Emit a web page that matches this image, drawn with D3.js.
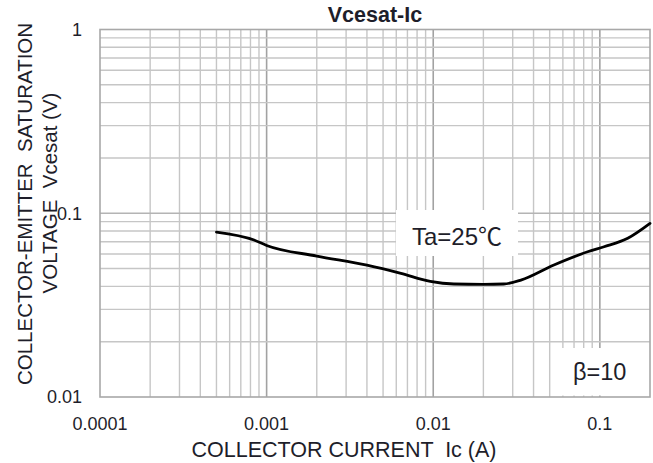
<!DOCTYPE html>
<html>
<head>
<meta charset="utf-8">
<script src="https://cdn.jsdelivr.net/npm/d3@7"></script>
<style>
  html, body { margin: 0; padding: 0; background: #fff; }
  svg { display: block; }
  text { font-family: "Liberation Sans", Arial, "Noto Sans CJK SC", sans-serif; fill: #1e1e2a; white-space: pre; }
</style>
</head>
<body>
<svg id="chart" width="653" height="463"></svg>
<script>
// ---- data ----
const icValues  = [0.0005, 0.00084, 0.001, 0.002, 0.004, 0.0064, 0.0096, 0.0133, 0.02, 0.0265, 0.0336, 0.053, 0.0845, 0.106, 0.147, 0.2];
const vceValues = [0.079, 0.0715, 0.0668, 0.0585, 0.0522, 0.0471, 0.0426, 0.0412, 0.0410, 0.0412, 0.0433, 0.0523, 0.0617, 0.0657, 0.0730, 0.088];
const xTickValues = [0.0001, 0.001, 0.01, 0.1];
const xTickLabels = ["0.0001", "0.001", "0.01", "0.1"];
const yTickValues = [0.01, 0.1, 1];
const yTickLabels = ["0.01", "0.1", "1"];
const xDomain = [0.0001, 0.2];
const yDomain = [0.01, 1];
const titleText = "Vcesat-Ic";
const xLabelText = "COLLECTOR CURRENT  Ic (A)";
const yLabelLine1 = "COLLECTOR-EMITTER  SATURATION";
const yLabelLine2 = "VOLTAGE  Vcesat (V)";
const tempMain = "Ta=25";
const tempUnit = "\u2103";
const betaNote = "\u03B2=10";

// ---- layout ----
const L = 100, R = 650, T = 29.5, B = 397;
const svg = d3.select("#chart");
const x = d3.scaleLog().domain(xDomain).range([L, R]);
const y = d3.scaleLog().domain(yDomain).range([B, T]);

const isMajor = v => Math.abs(Math.log10(v) - Math.round(Math.log10(v))) < 1e-6;

// grid
const g = svg.append("g");
const xGrid = x.ticks().filter(v => v > xDomain[0] * 1.0001 && v < xDomain[1] * 0.9999);
const yGrid = y.ticks().filter(v => v > yDomain[0] * 1.0001 && v < yDomain[1] * 0.9999);
g.selectAll("line.xg").data(xGrid).join("line")
  .attr("x1", d => x(d)).attr("x2", d => x(d))
  .attr("y1", T).attr("y2", B)
  .attr("stroke", d => isMajor(d) ? "#a2a2a2" : "#c6c6c6")
  .attr("stroke-width", d => isMajor(d) ? 1.6 : 1.4);
g.selectAll("line.yg").data(yGrid).join("line")
  .attr("y1", d => y(d)).attr("y2", d => y(d))
  .attr("x1", L).attr("x2", R)
  .attr("stroke", d => isMajor(d) ? "#b4b4b4" : "#c6c6c6")
  .attr("stroke-width", 1.4);

// white note boxes (cover the grid)
svg.append("rect").attr("x", 396).attr("y", 210).attr("width", 122).attr("height", 46).attr("fill", "#fff");
svg.append("rect").attr("x", 556).attr("y", 348).attr("width", R - 556 - 1).attr("height", B - 348 - 1.5).attr("fill", "#fff");

// border
svg.append("rect").attr("x", L).attr("y", T).attr("width", R - L).attr("height", B - T)
  .attr("fill", "none").attr("stroke", "#a8a8a8").attr("stroke-width", 1.6);

// curve
const pts = icValues.map((v, i) => [v, vceValues[i]]);
const line = d3.line().x(d => x(d[0])).y(d => y(d[1])).curve(d3.curveMonotoneX);
svg.append("path").datum(pts).attr("d", line)
  .attr("fill", "none").attr("stroke", "#000").attr("stroke-width", 2.8)
  .attr("stroke-linejoin", "round").attr("stroke-linecap", "round");

// tick labels
svg.selectAll("text.xt").data(xTickValues).join("text")
  .attr("x", d => x(d)).attr("y", 424).attr("dy", "0.35em")
  .attr("text-anchor", "middle").style("font-size", "18px")
  .text((d, i) => xTickLabels[i]);
svg.selectAll("text.yt").data(yTickValues).join("text")
  .attr("x", 82).attr("y", d => y(d)).attr("dy", "0.35em")
  .attr("text-anchor", "end").style("font-size", "18px")
  .text((d, i) => yTickLabels[i]);

// title
svg.append("text").attr("x", (L + R) / 2).attr("y", 22).attr("text-anchor", "middle")
  .style("font-size", "21.5px").style("font-weight", "bold").text(titleText);

// x label
svg.append("text").attr("x", 344).attr("y", 457).attr("text-anchor", "middle")
  .style("font-size", "21.5px").text(xLabelText);

// y labels
svg.append("text").attr("transform", "translate(32,204) rotate(-90)").attr("text-anchor", "middle")
  .style("font-size", "20.5px").text(yLabelLine1);
svg.append("text").attr("transform", "translate(57,193) rotate(-90)").attr("text-anchor", "middle")
  .style("font-size", "20.5px").text(yLabelLine2);

// notes
const tn = svg.append("text").attr("x", 412).attr("y", 245).style("font-size", "24px");
tn.append("tspan").text(tempMain);
tn.append("tspan").style("font-family", "'Noto Sans CJK SC', sans-serif").text(tempUnit);
svg.append("text").attr("x", 573).attr("y", 380).style("font-size", "23.5px").text(betaNote);
</script>
</body>
</html>
